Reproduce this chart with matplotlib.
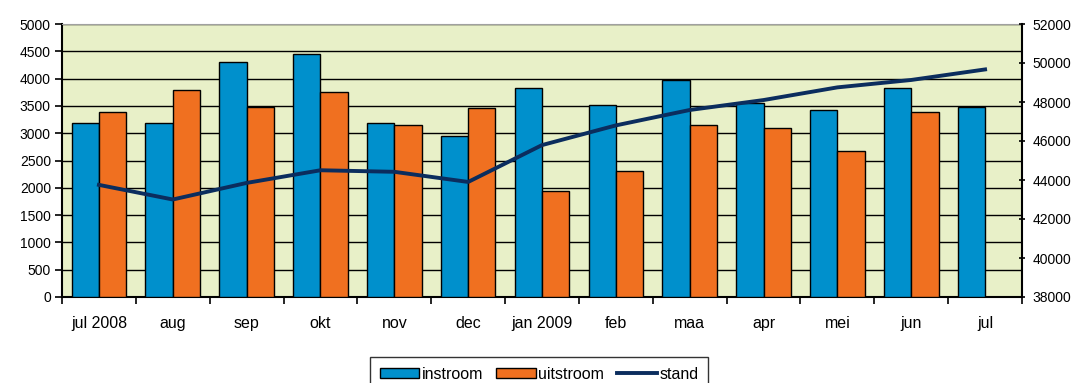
import matplotlib
matplotlib.use("Agg")
import matplotlib.pyplot as plt
import numpy as np

plt.rcParams['font.family'] = ['Liberation Sans', 'DejaVu Sans']

categories = ["jul 2008", "aug", "sep", "okt", "nov", "dec", "jan 2009",
              "feb", "maa", "apr", "mei", "jun", "jul"]
instroom = [3190, 3190, 4300, 4450, 3190, 2940, 3820, 3520, 3970, 3560, 3420, 3820, 3480]
uitstroom = [3380, 3790, 3480, 3750, 3150, 3470, 1940, 2310, 3150, 3090, 2680, 3380, np.nan]
stand = [43750, 43000, 43850, 44500, 44420, 43900, 45790, 46800, 47590, 48100, 48750, 49130, 49670]

blue = "#0090CC"
orange = "#F07020"
navy = "#0B2D5E"
bg = "#E8F0C8"

fig = plt.figure(figsize=(10.82, 3.83), dpi=100)
ax = fig.add_axes([62/1082, 1 - 297/383, (1022-62)/1082, (297-24)/383])
ax.set_facecolor(bg)

x = np.arange(len(categories))
w = 0.37
ax.bar(x - w/2, instroom, width=w, color=blue, edgecolor="black", linewidth=1, zorder=3, label="instroom")
ax.bar(x + w/2, uitstroom, width=w, color=orange, edgecolor="black", linewidth=1, zorder=3, label="uitstroom")

ax.set_xlim(-0.5, len(categories) - 0.5)
ax.set_ylim(0, 5000)
ax.set_yticks(np.arange(0, 5001, 500))
ax.yaxis.grid(True, color="black", linewidth=1, zorder=1)
ax.set_axisbelow(True)

ax.set_xticks(np.arange(-0.5, len(categories), 1))
ax.set_xticklabels([])
ax.set_xticks(x, minor=True)
ax.set_xticklabels(categories, minor=True)
ax.tick_params(axis="x", which="minor", length=0, pad=14, labelsize=11.5)
ax.tick_params(axis="x", which="major", length=5, direction="out", width=1.2)
ax.tick_params(axis="y", length=5, direction="out", labelsize=10, width=1.2, pad=3)

for s in ["left", "bottom"]:
    ax.spines[s].set_linewidth(1.5)
ax.spines["top"].set_color("#A0A0A0")
ax.spines["right"].set_visible(False)

ax2 = ax.twinx()
ax2.set_ylim(38000, 52000)
ax2.set_yticks(np.arange(38000, 52001, 2000))
ax2.plot(x, stand, color=navy, linewidth=2.8, zorder=5, label="stand")
ax2.tick_params(axis="y", length=5, direction="inout", labelsize=10, width=1.2, pad=5)
ax2.spines["right"].set_linewidth(1.5)
ax2.spines["top"].set_visible(False)
ax2.spines["left"].set_visible(False)
ax2.spines["bottom"].set_visible(False)

h1, l1 = ax.get_legend_handles_labels()
h2, l2 = ax2.get_legend_handles_labels()
leg = fig.legend(h1 + h2, l1 + l2, loc="upper center", bbox_to_anchor=(539/1082, 1 - 357/383),
                 ncol=3, frameon=True, fancybox=False, fontsize=11.5, handlelength=2.5,
                 handleheight=0.55, handletextpad=0.15, columnspacing=0.8, borderpad=0.6,
                 borderaxespad=0, edgecolor="black")
leg.get_frame().set_linewidth(1.0)

fig.savefig("out.png", dpi=100)
